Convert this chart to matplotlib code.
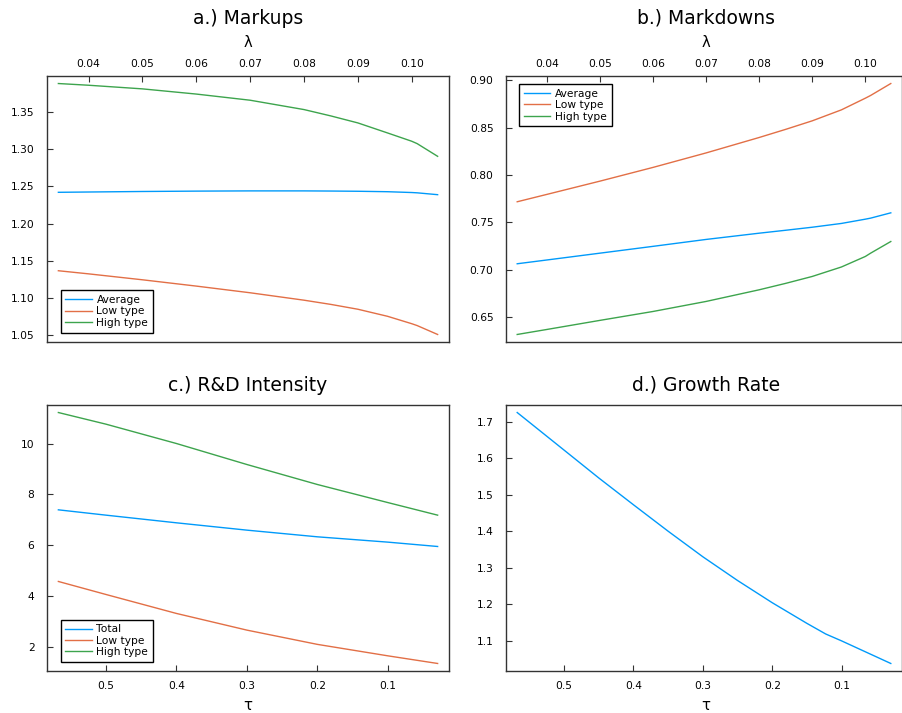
import matplotlib
matplotlib.use("Agg")
import matplotlib.pyplot as plt

# lambda grid (top axis of panels a and b)
lam = [0.0344, 0.04, 0.05, 0.06, 0.07, 0.08, 0.085, 0.09, 0.0955, 0.10, 0.101, 0.1048]
markup_avg = [1.2421, 1.2425, 1.2432, 1.2437, 1.2440, 1.2440, 1.2438, 1.2435, 1.2429, 1.2418, 1.2414, 1.2389]
markup_low = [1.1364, 1.1322, 1.1242, 1.1157, 1.1067, 1.0967, 1.0910, 1.0845, 1.0750, 1.0650, 1.0625, 1.0505]
markup_high = [1.3887, 1.3864, 1.3815, 1.3745, 1.3662, 1.3536, 1.3450, 1.3356, 1.3221, 1.3109, 1.3077, 1.2906]

markdown_avg = [0.7064, 0.7104, 0.7176, 0.7248, 0.7321, 0.7387, 0.7418, 0.7450, 0.7490, 0.7535, 0.7546, 0.7602]
markdown_low = [0.7719, 0.7797, 0.7937, 0.8082, 0.8235, 0.8398, 0.8484, 0.8574, 0.8690, 0.8813, 0.8842, 0.8968]
markdown_high = [0.6317, 0.6370, 0.6466, 0.6560, 0.6666, 0.6789, 0.6857, 0.6930, 0.7030, 0.7141, 0.7176, 0.7299]

# tau grid (bottom axis of panels c and d, reversed)
tau = [0.5675, 0.5, 0.4, 0.3, 0.2, 0.1, 0.0294]
rd_total = [7.395, 7.186, 6.885, 6.597, 6.335, 6.126, 5.955]
rd_low = [4.581, 4.07, 3.325, 2.67, 2.11, 1.66, 1.36]
rd_high = [11.217, 10.76, 10.0, 9.175, 8.39, 7.68, 7.186]

tau_g = [0.5675, 0.5, 0.45, 0.4, 0.35, 0.3, 0.25, 0.2, 0.15, 0.123, 0.1, 0.0292]
growth = [1.7257, 1.6228, 1.5465, 1.473, 1.4005, 1.3305, 1.2655, 1.2046, 1.148, 1.119, 1.100, 1.0382]

lam_ticks = [0.04, 0.05, 0.06, 0.07, 0.08, 0.09, 0.10]
tau_ticks = [0.5, 0.4, 0.3, 0.2, 0.1]

BLUE = "#009AFA"
RED = "#E26F46"
GREEN = "#3DA44D"
FRAME = "#333333"

W, H = 902, 713
TICK_FS = 7.7
TITLE_FS = 13.5
GUIDE_FS = 10.6

fig = plt.figure(figsize=(W / 100, H / 100), dpi=100)


def make_axes(left, top, right, bottom):
    ax = fig.add_axes([left / W, 1 - bottom / H, (right - left) / W, (bottom - top) / H])
    for s in ax.spines.values():
        s.set_color(FRAME)
        s.set_linewidth(1.0)
    ax.tick_params(direction="in", length=4, width=0.8, color=FRAME,
                   labelsize=TICK_FS, right=False)
    ax.tick_params(axis="y", pad=9)
    return ax


def add_legend(ax, loc, anchor):
    leg = ax.legend(loc=loc, bbox_to_anchor=anchor, borderaxespad=0,
                    fontsize=TICK_FS, frameon=True, fancybox=False,
                    framealpha=1, edgecolor="black", handlelength=2.45,
                    handletextpad=0.45, labelspacing=0.13, borderpad=0.45)
    leg.get_frame().set_linewidth(1.0)


def widen(vals):
    lo, hi = min(vals), max(vals)
    pad = (hi - lo) * 0.03
    return lo - pad, hi + pad


# a.) Markups
ax = make_axes(47, 76, 449, 342)
ax.plot(lam, markup_avg, color=BLUE, lw=1.0, label="Average")
ax.plot(lam, markup_low, color=RED, lw=1.0, label="Low type")
ax.plot(lam, markup_high, color=GREEN, lw=1.0, label="High type")
ax.set_xlim(widen(lam))
ax.set_ylim(widen(markup_low + markup_high))
ax.set_yticks([1.05, 1.10, 1.15, 1.20, 1.25, 1.30, 1.35])
ax.set_yticklabels(["%.2f" % v for v in [1.05, 1.10, 1.15, 1.20, 1.25, 1.30, 1.35]])
ax.xaxis.tick_top()
ax.set_xticks(lam_ticks)
ax.set_xticklabels(["%.2f" % v for v in lam_ticks])
ax.tick_params(axis="x", pad=5, bottom=False)
add_legend(ax, "lower left", (0.034, 0.035))

# b.) Markdowns
ax = make_axes(506, 76, 902, 342)
ax.plot(lam, markdown_avg, color=BLUE, lw=1.0, label="Average")
ax.plot(lam, markdown_low, color=RED, lw=1.0, label="Low type")
ax.plot(lam, markdown_high, color=GREEN, lw=1.0, label="High type")
ax.set_xlim(widen(lam))
ax.set_ylim(widen(markdown_low + markdown_high))
ax.set_yticks([0.65, 0.70, 0.75, 0.80, 0.85, 0.90])
ax.set_yticklabels(["%.2f" % v for v in [0.65, 0.70, 0.75, 0.80, 0.85, 0.90]])
ax.xaxis.tick_top()
ax.set_xticks(lam_ticks)
ax.set_xticklabels(["%.2f" % v for v in lam_ticks])
ax.tick_params(axis="x", pad=5, bottom=False)
add_legend(ax, "upper left", (0.034, 0.97))

# c.) R&D Intensity
ax = make_axes(47, 405, 449, 671)
ax.plot(tau, rd_total, color=BLUE, lw=1.0, label="Total")
ax.plot(tau, rd_low, color=RED, lw=1.0, label="Low type")
ax.plot(tau, rd_high, color=GREEN, lw=1.0, label="High type")
lo, hi = widen(tau)
ax.set_xlim(hi, lo)
ax.set_ylim(widen(rd_low + rd_high))
ax.set_yticks([2, 4, 6, 8, 10])
ax.set_xticks(tau_ticks)
ax.set_xticklabels(["%.1f" % v for v in tau_ticks])
ax.tick_params(axis="x", pad=7, top=False)
add_legend(ax, "lower left", (0.034, 0.034))

# d.) Growth Rate
ax = make_axes(506, 405, 902, 671)
ax.plot(tau_g, growth, color=BLUE, lw=1.0)
lo, hi = widen(tau_g)
ax.set_xlim(hi, lo)
ax.set_ylim(widen(growth))
ax.set_yticks([1.1, 1.2, 1.3, 1.4, 1.5, 1.6, 1.7])
ax.set_xticks(tau_ticks)
ax.set_xticklabels(["%.1f" % v for v in tau_ticks])
ax.tick_params(axis="x", pad=7, top=False)

# titles and axis guides
for x, y, s in [(248, 24, "a.) Markups"), (706, 24, "b.) Markdowns"),
                (248, 390.5, "c.) R&D Intensity"), (706, 390.5, "d.) Growth Rate")]:
    fig.text(x / W, 1 - y / H, s, ha="center", va="baseline", fontsize=TITLE_FS)
for x, y, s in [(248, 47.3, "λ"), (706, 47.3, "λ"), (248, 710, "τ"), (706, 710, "τ")]:
    fig.text(x / W, 1 - y / H, s, ha="center", va="baseline", fontsize=GUIDE_FS)

fig.savefig("out.png", dpi=100)
